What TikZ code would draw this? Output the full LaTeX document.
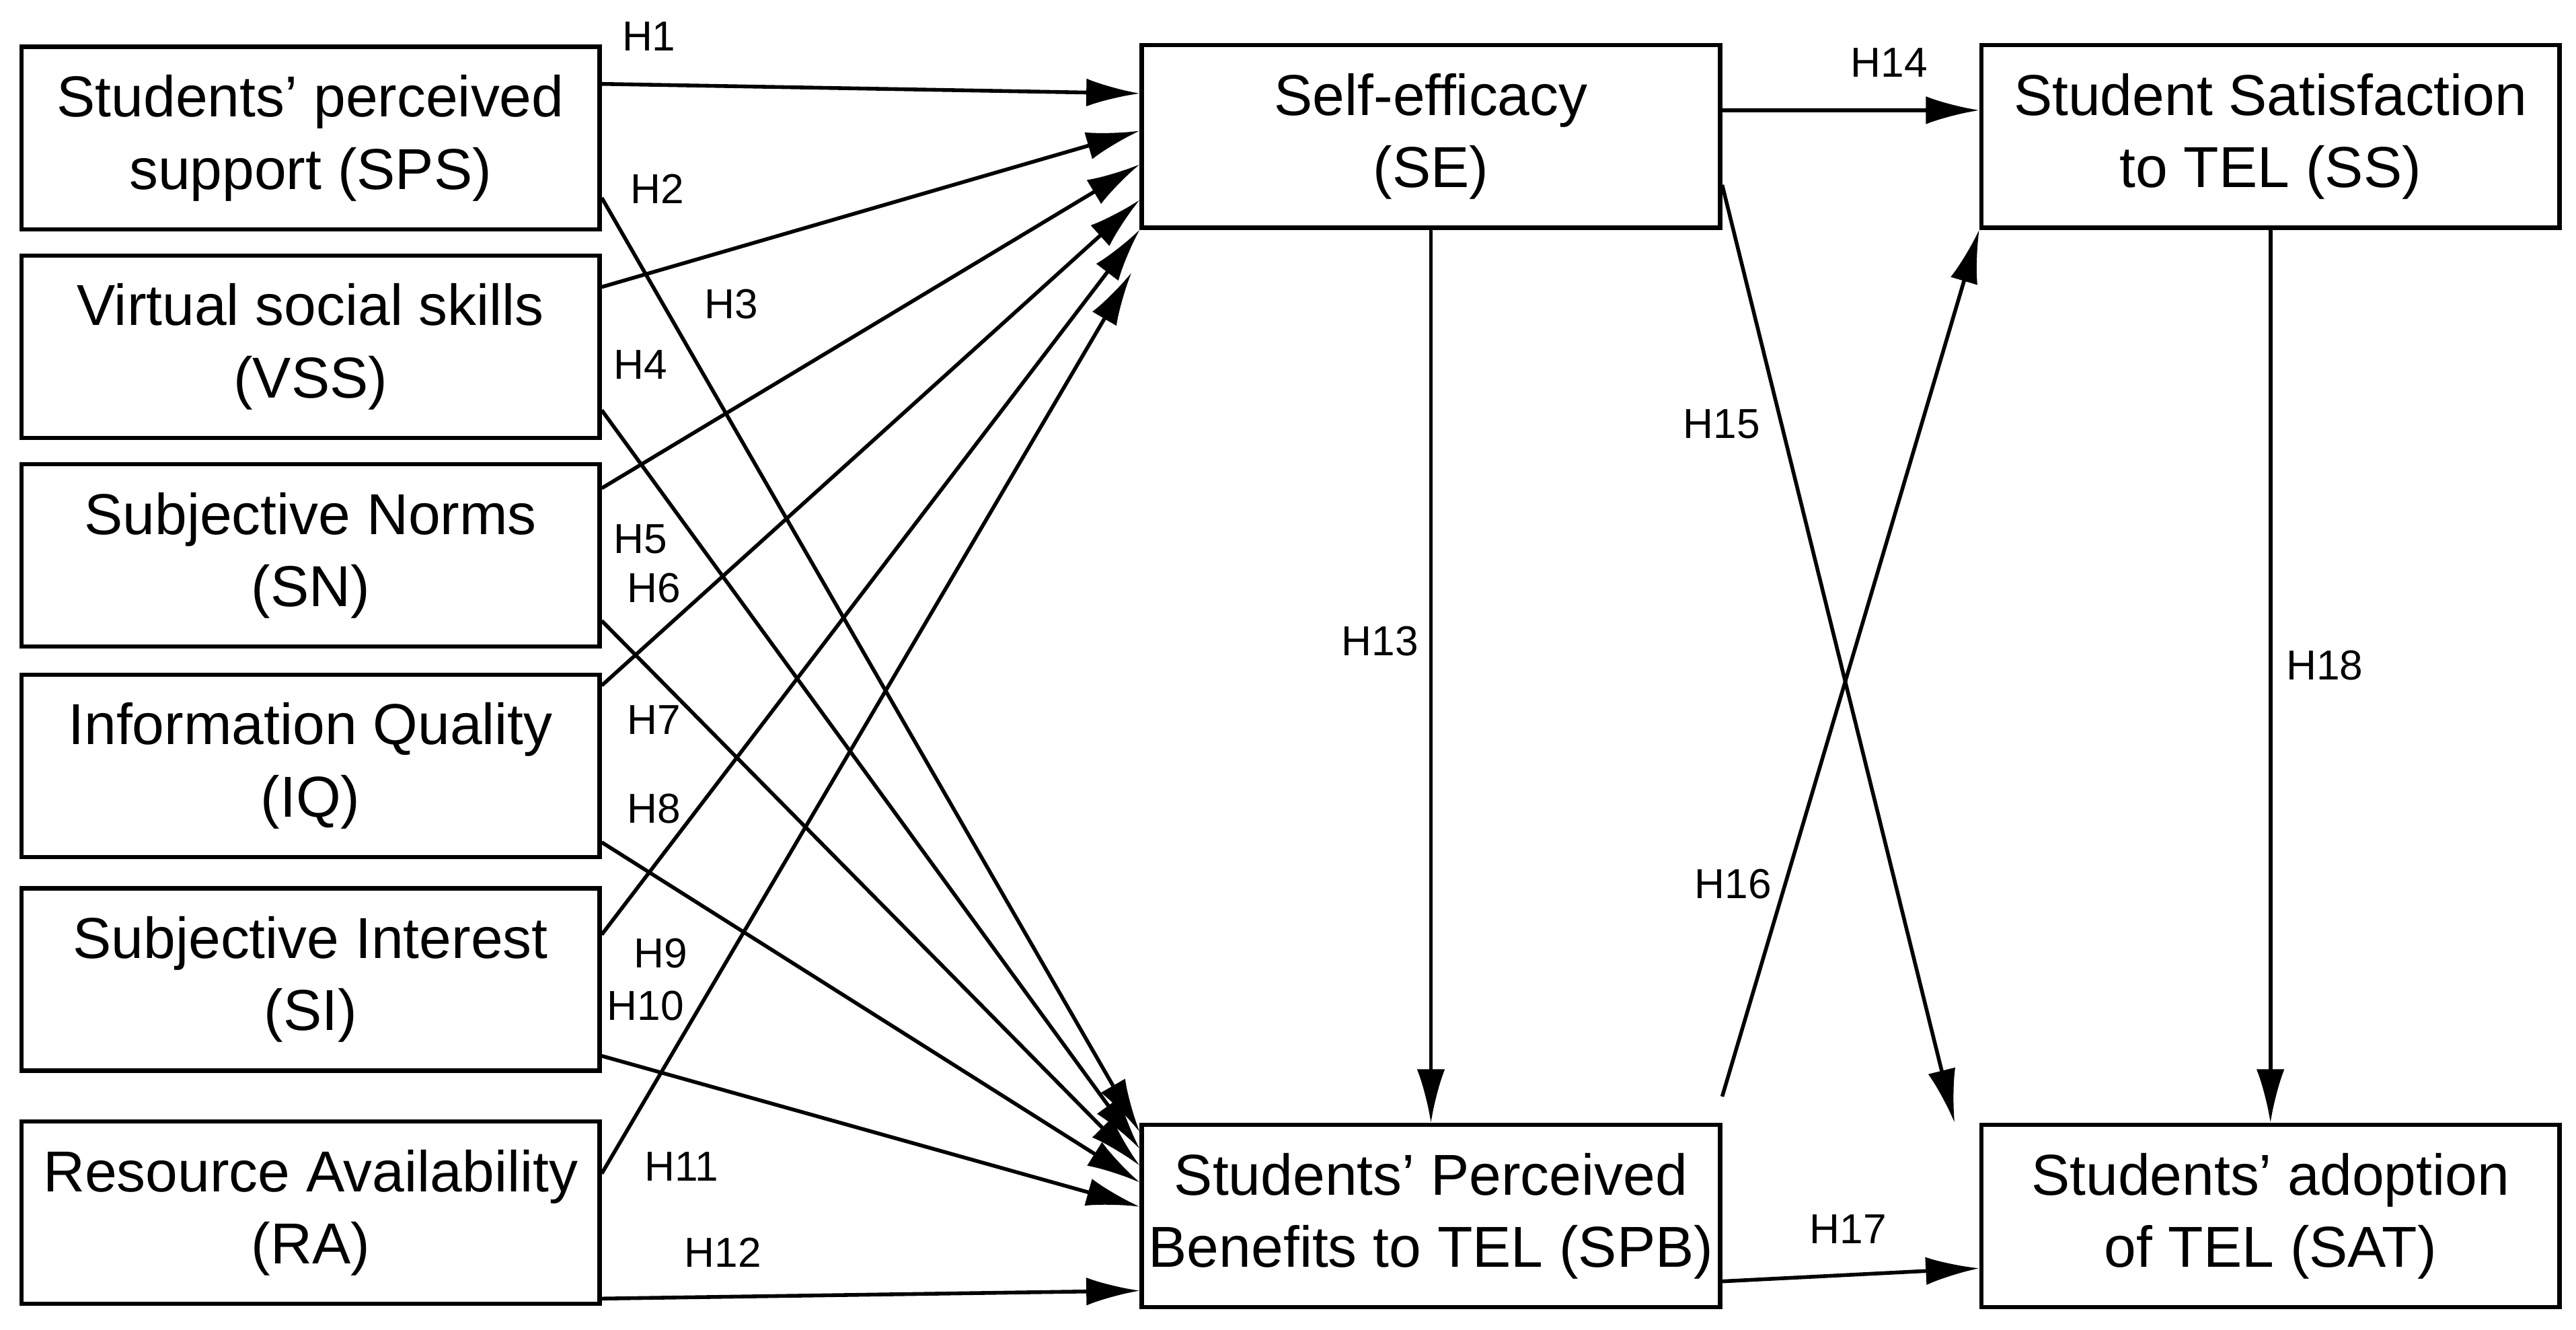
\documentclass[tikz,border=0pt]{standalone}
\usepackage{fontspec}
\setmainfont{Liberation Sans}
\usetikzlibrary{arrows.meta,calc}
\tikzset{
  box/.style={draw=black, line width=1.5pt, minimum width=7.04cm, minimum height=2.22cm, align=center, font=\fontsize{20}{25}\selectfont, inner sep=0pt},
  hyp/.style={font=\fontsize{14.5}{16}\selectfont},
  arr/.style={-{Latex[length=6.5mm,width=3.4mm]}, line width=1.3pt}
}
\begin{document}
\begin{tikzpicture}[x=0.02cm,y=-0.02cm]
    \useasboundingbox (0,0) rectangle (1568,809);
    \node[box] (sps) at (189,84) {Students’ perceived\\support (SPS)};
    \node[box] (vss) at (189,211) {Virtual social skills\\(VSS)};
    \node[box] (sn) at (189,338) {Subjective Norms\\(SN)};
    \node[box] (iq) at (189,466) {Information Quality\\(IQ)};
    \node[box] (si) at (189,596) {Subjective Interest\\(SI)};
    \node[box] (ra) at (189,738) {Resource Availability\\(RA)};
    \node[box] (se) at (871,83) {Self-efficacy\\(SE)};
    \node[box] (ss) at (1382,83) {Student Satisfaction\\to TEL (SS)};
    \node[box] (spb) at (871,740) {Students’ Perceived\\Benefits to TEL (SPB)};
    \node[box] (sat) at (1382,740) {Students’ adoption\\of TEL (SAT)};
    % paths to self-efficacy
    \draw[arr] ($(sps.north east)!0.21!(sps.south east)$) -- ($(se.north west)!0.27!(se.south west)$);
    \draw[arr] ($(vss.north east)!0.18!(vss.south east)$) -- ($(se.north west)!0.47!(se.south west)$);
    \draw[arr] ($(sn.north east)!0.14!(sn.south east)$) -- ($(se.north west)!0.65!(se.south west)$);
    \draw[arr] ($(iq.north east)!0.07!(iq.south east)$) -- ($(se.north west)!0.84!(se.south west)$);
    \draw[arr] ($(si.north east)!0.26!(si.south east)$) -- ($(se.north west)!1.0!(se.south west)$);
    \draw[arr] ($(ra.north east)!0.29!(ra.south east)$) -- ([xshift=-0.1cm]$(se.north west)!1.23!(se.south west)$);
    % paths to perceived benefits
    \draw[arr] ($(sps.north east)!0.82!(sps.south east)$) -- ($(spb.north west)!0.05!(spb.south west)$);
    \draw[arr] ($(vss.north east)!0.84!(vss.south east)$) -- ($(spb.north west)!0.14!(spb.south west)$);
    \draw[arr] ($(sn.north east)!0.85!(sn.south east)$) -- ($(spb.north west)!0.23!(spb.south west)$);
    \draw[arr] ($(iq.north east)!0.91!(iq.south east)$) -- ($(spb.north west)!0.32!(spb.south west)$);
    \draw[arr] ($(si.north east)!0.91!(si.south east)$) -- ($(spb.north west)!0.45!(spb.south west)$);
    \draw[arr] ($(ra.north east)!0.96!(ra.south east)$) -- ($(spb.north west)!0.9!(spb.south west)$);
    % right part
    \draw[arr] (se.south) -- (spb.north);
    \draw[arr] ($(se.north east)!0.36!(se.south east)$) -- ($(ss.north west)!0.36!(ss.south west)$);
    \draw[arr] ($(se.north east)!0.76!(se.south east)$) -- ([xshift=-0.3cm]sat.north west);
    \draw[arr] ($(spb.north east)!-0.14!(spb.south east)$) -- (ss.south west);
    \draw[arr] ($(spb.north east)!0.85!(spb.south east)$) -- ($(sat.north west)!0.78!(sat.south west)$);
    \draw[arr] (ss.south) -- (sat.north);
    % labels
    \node[hyp] (h1) at (395,22) {H1};
    \node[hyp] (h2) at (400,115) {H2};
    \node[hyp] (h3) at (445,185) {H3};
    \node[hyp] (h4) at (390,222) {H4};
    \node[hyp] (h5) at (390,328) {H5};
    \node[hyp] (h6) at (398,358) {H6};
    \node[hyp] (h7) at (398,438) {H7};
    \node[hyp] (h8) at (398,492) {H8};
    \node[hyp] (h9) at (402,580) {H9};
    \node[hyp] (h10) at (393,612) {H10};
    \node[hyp] (h11) at (415,710) {H11};
    \node[hyp] (h12) at (440,762) {H12};
    \node[hyp] (h13) at (840,390) {H13};
    \node[hyp] (h14) at (1150,38) {H14};
    \node[hyp] (h15) at (1048,258) {H15};
    \node[hyp] (h16) at (1055,538) {H16};
    \node[hyp] (h17) at (1125,748) {H17};
    \node[hyp] (h18) at (1415,405) {H18};
\end{tikzpicture}
\end{document}
